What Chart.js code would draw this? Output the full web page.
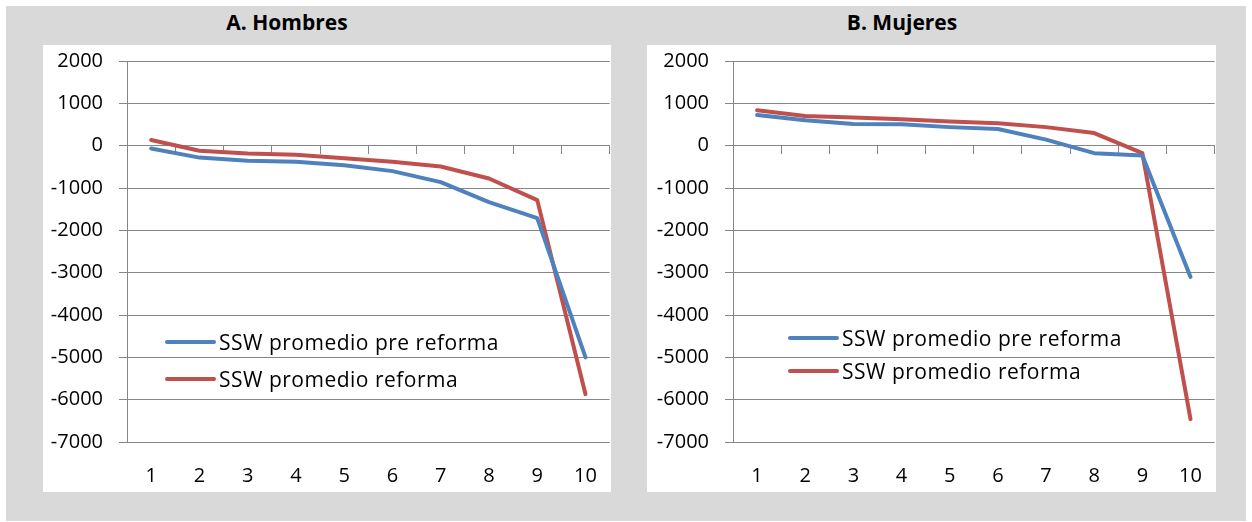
<!DOCTYPE html>
<html>
<head>
<meta charset="utf-8">
<script src="https://cdn.jsdelivr.net/npm/chart.js@4.4.1/dist/chart.umd.min.js"></script>
<style>
  body { margin: 0; background: #fff; font-family: "Open Sans", sans-serif; }
  #frame { position: absolute; left: 6px; top: 6px; width: 1240px; height: 515px; background: #d9d9d9; }
  .box { position: absolute; top: 45px; height: 447px; background: #fff; }
  .title { position: absolute; top: 8px; width: 300px; text-align: center; font-weight: bold; font-size: 21px; color: #000; }
  .legend { position: absolute; font-size: 21px; letter-spacing: 0.5px; color: #000; }
  .row { position: absolute; left: 0; white-space: nowrap; height: 30px; }
  .swatch { position: absolute; left: 0; top: 13px; width: 51px; height: 4px; border-radius: 2px; }
  .lbl { position: absolute; left: 54px; top: 0; line-height: 30px; }
</style>
</head>
<body>
<div id="frame"></div>
<div class="title" style="left:137px">A. Hombres</div>
<div class="title" style="left:752px">B. Mujeres</div>
<div class="box" style="left:43px;width:568px"><canvas id="hombres" width="568" height="447"></canvas></div>
<div class="box" style="left:647px;width:569px"><canvas id="mujeres" width="569" height="447"></canvas></div>
<div class="legend" id="legHombres" style="left:165px;top:327px"></div>
<div class="legend" id="legMujeres" style="left:788px;top:323px"></div>
<script>
const deciles = ['1', '2', '3', '4', '5', '6', '7', '8', '9', '10'];
const seriesNames = ['SSW promedio pre reforma', 'SSW promedio reforma'];
const seriesColors = ['#4F81BD', '#C0504D'];

const hombresPre = [-65, -280, -355, -380, -460, -600, -860, -1330, -1710, -5000];
const hombresReforma = [135, -120, -185, -215, -295, -380, -490, -775, -1285, -5870];
const mujeresPre = [728, 600, 515, 505, 440, 395, 145, -175, -230, -3100];
const mujeresReforma = [840, 705, 665, 625, 570, 530, 440, 300, -175, -6460];

const yMin = -7000, yMax = 2000, yStep = 1000;
const gridColor = '#868686';
const xFont = { family: 'Open Sans', size: 20 };
// tiny line height so the y labels don't push the plot area down
const yFont = { family: 'Open Sans', size: 20, lineHeight: 0.01 };

function makeChart(id, pre, reforma, yWidth) {
  const sets = [pre, reforma].map((d, i) => ({
    label: seriesNames[i],
    data: d,
    borderColor: seriesColors[i],
    backgroundColor: seriesColors[i],
    borderWidth: 4,
    pointRadius: 0,
    tension: 0,
    borderJoinStyle: 'round',
    borderCapStyle: 'round',
    xAxisID: 'x'
  }));
  return new Chart(document.getElementById(id), {
    type: 'line',
    data: { labels: deciles, datasets: sets },
    options: {
      responsive: false,
      animation: false,
      layout: { padding: { top: 0, right: 1, bottom: 0, left: 0 } },
      plugins: { legend: { display: false }, tooltip: { enabled: false } },
      scales: {
        x: {
          type: 'category',
          position: 'bottom',
          offset: true,
          grid: { display: false },
          border: { display: false },
          ticks: { color: '#000', font: xFont, padding: 14, maxRotation: 0 },
          afterFit: s => { s.height = 50; }
        },
        x0: {
          type: 'category',
          axis: 'x',
          position: { y: 0 },
          offset: true,
          grid: { display: true, drawOnChartArea: false, drawTicks: true, tickLength: 8, color: gridColor, offset: true },
          border: { display: true, color: gridColor, width: 1 },
          ticks: { display: false }
        },
        y: {
          min: yMin,
          max: yMax,
          ticks: { stepSize: yStep, color: '#000', font: yFont, padding: 16, callback: v => String(v) },
          grid: { color: gridColor, lineWidth: 1, tickLength: 8, drawTicks: true },
          border: { display: true, color: gridColor, width: 1 },
          afterFit: s => { s.width = yWidth; }
        }
      }
    }
  });
}

function makeLegend(id, gap) {
  const el = document.getElementById(id);
  seriesNames.forEach((name, i) => {
    const row = document.createElement('div');
    row.className = 'row';
    row.style.top = (i * gap) + 'px';
    row.innerHTML = `<div class="swatch" style="background:${seriesColors[i]}"></div><div class="lbl">${name}</div>`;
    el.appendChild(row);
  });
}

makeChart('hombres', hombresPre, hombresReforma, 84);
makeChart('mujeres', mujeresPre, mujeresReforma, 86);
makeLegend('legHombres', 37);
makeLegend('legMujeres', 33);
</script>
</body>
</html>
